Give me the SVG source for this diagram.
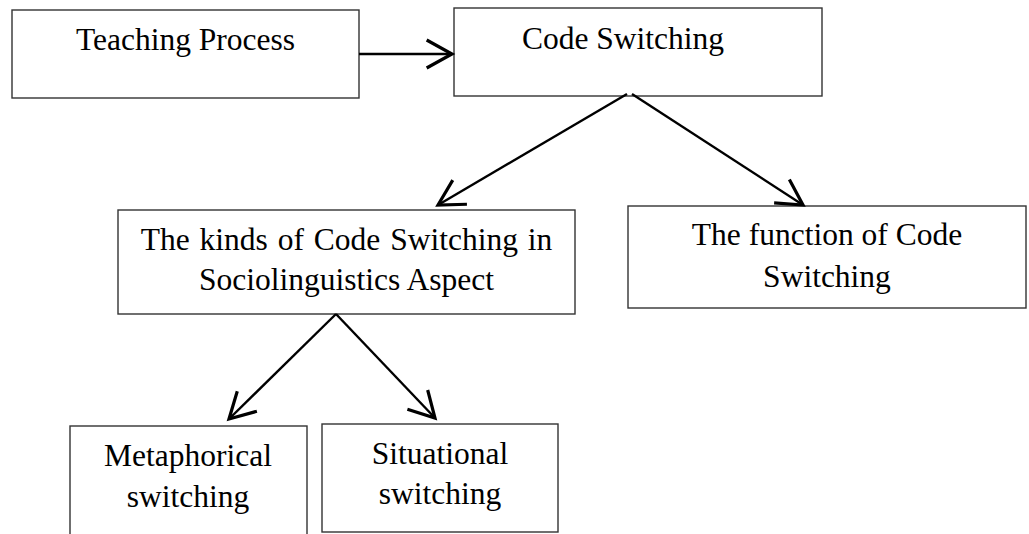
<svg xmlns="http://www.w3.org/2000/svg" width="1029" height="534" viewBox="0 0 1029 534">
  <style>
    .box { fill: #fff; stroke: #333; stroke-width: 1.4; }
    .lbl { font-family: "Liberation Serif", "Times New Roman", serif; font-size: 31.5px; fill: #000; text-anchor: middle; }
    .conn { fill: none; stroke: #000; stroke-width: 2.4; }
  </style>
  <defs>
    <marker id="open-arrow" markerUnits="userSpaceOnUse" markerWidth="40" markerHeight="40" viewBox="-25 -15 30 30" refX="0" refY="0" orient="auto" overflow="visible">
      <path d="M-19,-10.5 L0,0 L-19,10.5" fill="none" stroke="#000" stroke-width="2.4" stroke-linejoin="miter"/>
    </marker>
  </defs>
  <rect width="1029" height="534" fill="#fff"/>

  <g id="teaching-process">
    <rect class="box" x="12" y="10" width="347" height="88"/>
    <text class="lbl" x="185.5" y="50">Teaching Process</text>
  </g>

  <g id="code-switching">
    <rect class="box" x="454" y="8" width="368" height="88"/>
    <text class="lbl" x="623" y="48.5">Code Switching</text>
  </g>

  <g id="kinds">
    <rect class="box" x="118" y="210" width="457" height="104"/>
    <text class="lbl" x="346.5" y="249.5" word-spacing="2">The kinds of Code Switching in</text>
    <text class="lbl" x="346.5" y="290">Sociolinguistics Aspect</text>
  </g>

  <g id="function">
    <rect class="box" x="628" y="206" width="398" height="102"/>
    <text class="lbl" x="827" y="245">The function of Code</text>
    <text class="lbl" x="827" y="287">Switching</text>
  </g>

  <g id="metaphorical">
    <rect class="box" x="70" y="426" width="237" height="120"/>
    <text class="lbl" x="188" y="466">Metaphorical</text>
    <text class="lbl" x="188" y="507">switching</text>
  </g>

  <g id="situational">
    <rect class="box" x="322" y="424" width="236" height="108"/>
    <text class="lbl" x="440" y="463.5">Situational</text>
    <text class="lbl" x="440" y="504">switching</text>
  </g>

  <g id="connectors">
    <line class="conn" x1="359" y1="54" x2="452" y2="54" marker-end="url(#open-arrow)"/>
    <line class="conn" x1="627" y1="94" x2="438" y2="205" marker-end="url(#open-arrow)"/>
    <line class="conn" x1="632" y1="94" x2="803" y2="205" marker-end="url(#open-arrow)"/>
    <line class="conn" x1="336" y1="314" x2="229" y2="419" marker-end="url(#open-arrow)"/>
    <line class="conn" x1="336" y1="314" x2="435" y2="418" marker-end="url(#open-arrow)"/>
  </g>
</svg>
